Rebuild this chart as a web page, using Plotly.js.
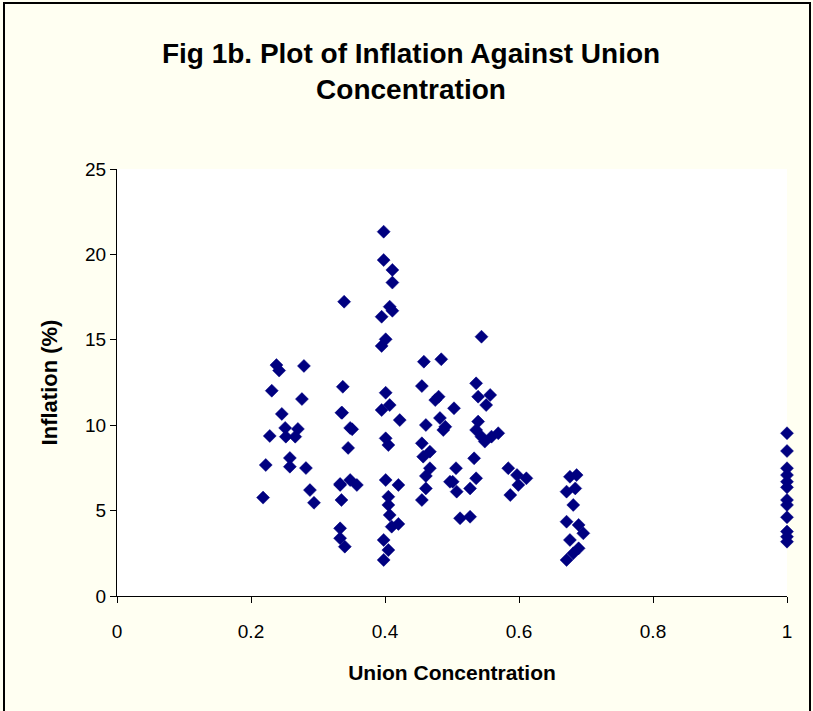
<!DOCTYPE html>
<html>
<head>
<meta charset="utf-8">
<script src="https://cdn.plot.ly/plotly-3.0.1.min.js"></script>
<style>
html,body{margin:0;padding:0;background:#FFFFF2;}
#chart{width:813px;height:711px;}
</style>
</head>
<body>
<div id="chart"></div>
<script>
// Union concentration (x) and inflation % (y)
var unionConcentration = [
  0.238,0.242,0.279,0.231,0.276,0.246,0.228,0.251,0.270,0.252,0.266,0.222,0.258,0.258,0.282,0.218,0.288,0.294,
  0.337,0.335,0.333,0.335,0.348,0.345,0.339,0.336,0.351,0.333,0.348,0.358,0.333,0.333,0.340,
  0.398,0.398,0.411,0.411,0.407,0.411,0.395,0.401,0.395,0.401,0.395,0.407,0.422,0.401,0.405,0.401,0.420,0.405,0.405,0.407,0.420,0.410,0.398,0.405,0.398,
  0.458,0.484,0.455,0.475,0.480,0.482,0.487,0.461,0.455,0.467,0.457,0.467,0.461,0.461,0.455,0.490,0.497,
  0.544,0.536,0.539,0.557,0.551,0.503,0.539,0.536,0.544,0.549,0.559,0.569,0.533,0.506,0.536,0.501,0.527,0.507,0.512,0.527,
  0.584,0.597,0.611,0.599,0.587,
  0.686,0.676,0.671,0.684,0.681,0.671,0.689,0.696,0.676,0.689,0.671,0.681,
  1,1,1,1,1,1,1,1,1,1,1,1
];
var inflation = [
  13.52,13.2,13.47,12.02,11.53,10.66,9.37,9.84,9.78,9.33,9.33,7.67,8.08,7.57,7.49,5.76,6.2,5.46,
  12.25,10.73,6.56,5.62,9.84,8.67,17.23,10.73,9.76,6.50,6.79,6.50,3.96,3.38,2.89,
  21.33,19.67,19.09,18.35,16.94,16.70,16.35,15.03,14.64,11.9,10.89,11.18,10.30,9.23,8.84,6.79,6.5,5.81,5.33,4.74,4.22,4.06,3.28,2.69,2.11,
  13.72,13.86,12.29,11.47,11.67,10.42,9.72,10.01,8.94,8.45,8.16,7.48,7.03,6.30,5.62,9.91,6.69,
  15.18,12.45,11.67,11.77,11.18,10.99,10.21,9.72,9.33,9.04,9.33,9.53,8.06,7.48,6.89,6.69,6.30,6.11,4.55,4.64,
  7.48,7.08,6.89,6.50,5.91,
  7.08,6.98,6.11,6.30,5.33,4.35,4.16,3.67,3.28,2.79,2.11,2.50,
  9.53,8.49,7.48,7.08,6.69,6.36,5.62,5.33,4.61,3.77,3.47,3.18
];
var xTicks = [0,0.2,0.4,0.6,0.8,1];
var xTickLabels = ['0','0.2','0.4','0.6','0.8','1'];
var yTicks = [0,5,10,15,20,25];
var yTickLabels = ['0','5','10','15','20','25'];

var font = 'Arial, "Liberation Sans", sans-serif';

var trace = {
  type: 'scatter',
  mode: 'markers',
  x: unionConcentration,
  y: inflation,
  cliponaxis: false,
  marker: {symbol: 'diamond', size: 10, color: '#000080', line: {color: '#000080', width: 0.5}},
  hoverinfo: 'x+y'
};

var layout = {
  width: 813, height: 711,
  paper_bgcolor: '#FFFFF2',
  plot_bgcolor: '#FFFFFF',
  margin: {l: 117, r: 26, t: 169, b: 115, pad: 0},
  showlegend: false,
  font: {family: font, color: '#000000', size: 19},
  title: {
    text: '<b>Fig 1b. Plot of Inflation Against Union<br>Concentration</b>',
    font: {family: font, size: 28, color: '#000000'},
    x: 411 / 813, xanchor: 'center', xref: 'container',
    y: 1 - 63/711, yanchor: 'middle', yref: 'container'
  },
  xaxis: {
    range: [0, 1],
    tickvals: xTicks, ticktext: xTickLabels,
    showgrid: false, zeroline: false,
    showline: true, linecolor: '#000000', linewidth: 1,
    ticks: 'outside', ticklen: 6, tickcolor: '#000000', tickwidth: 1,
    ticklabelstandoff: 12,
    tickfont: {family: font, size: 19, color: '#000000'},
    title: {text: '<b>Union Concentration</b>', font: {family: font, size: 21, color: '#000000'}, standoff: 24},
    automargin: false, fixedrange: true
  },
  yaxis: {
    range: [0, 25],
    tickvals: yTicks, ticktext: yTickLabels,
    showgrid: false, zeroline: false,
    showline: true, linecolor: '#000000', linewidth: 1,
    ticks: 'outside', ticklen: 6, tickcolor: '#000000', tickwidth: 1,
    tickfont: {family: font, size: 19, color: '#000000'},
    title: {text: '<b>Inflation (%)</b>', font: {family: font, size: 22, color: '#000000'}, standoff: 21},
    automargin: false, fixedrange: true
  },
  shapes: [{
    type: 'rect', xref: 'paper', yref: 'paper',
    x0: (4 - 117) / 670, x1: (810 - 117) / 670,
    y0: (596 - 712) / 427, y1: (596 - 3) / 427,
    line: {color: '#000000', width: 2}, fillcolor: 'rgba(0,0,0,0)', layer: 'below'
  }]
};

Plotly.newPlot('chart', [trace], layout, {displayModeBar: false, staticPlot: true});
</script>
</body>
</html>
